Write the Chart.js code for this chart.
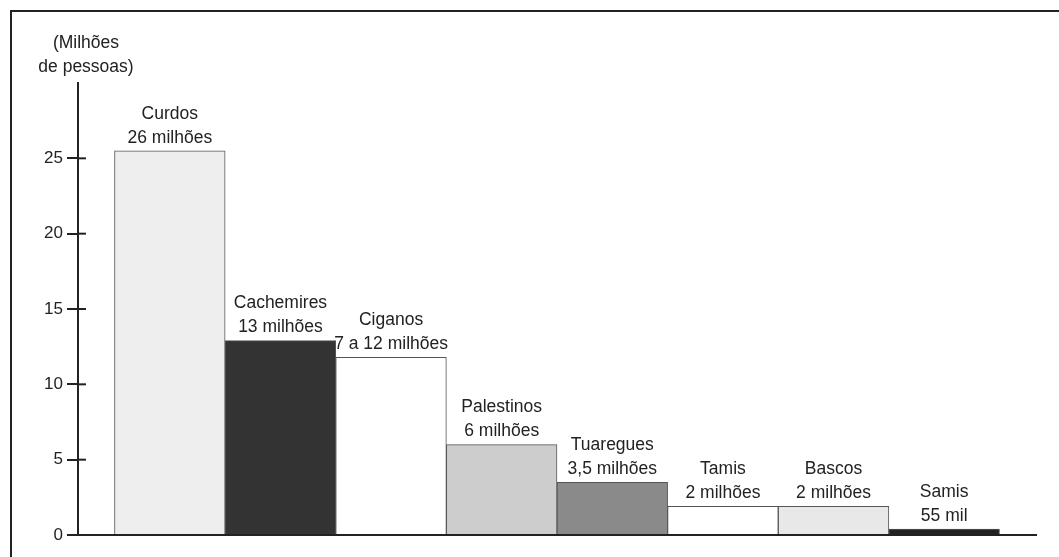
<!DOCTYPE html>
<html>
<head>
<meta charset="utf-8">
<script src="https://cdn.jsdelivr.net/npm/chart.js@4"></script>
<style>
  html, body { margin: 0; padding: 0; background: #fff; }
  #wrap { position: relative; width: 1059px; height: 557px; }
  #frame { position: absolute; left: 10px; top: 10px; right: -4px; bottom: -4px;
           border-left: 2px solid #222; border-top: 2px solid #222; }
  canvas { position: absolute; left: 0; top: 0; }
</style>
</head>
<body>
<div id="wrap">
  <div id="frame"></div>
  <canvas id="barChart" width="1059" height="557"></canvas>
</div>
<script>
// Data
var peoples = ["Curdos", "Cachemires", "Ciganos", "Palestinos", "Tuaregues", "Tamis", "Bascos", "Samis"];
var amountLabels = ["26 milhões", "13 milhões", "7 a 12 milhões", "6 milhões", "3,5 milhões", "2 milhões", "2 milhões", "55 mil"];
var values = [25.5, 12.9, 11.8, 6.0, 3.5, 1.9, 1.9, 0.4];
var barColors = ["#eeeeee", "#333333", "#ffffff", "#cdcdcd", "#8a8a8a", "#ffffff", "#e8e8e8", "#222222"];
var yTicks = [0, 5, 10, 15, 20, 25];
var yMax = 30;
var axisTitle = ["(Milhões", "de pessoas)"];

var FONT = "17.5px 'Liberation Sans', Arial, sans-serif";
var INK = "#222";

// Draws the labels above bars, the inner half of the y tick marks and the axis title
var annotations = {
    id: "annotations",
    afterDraw: function (chart) {
        var ctx = chart.ctx;
        var y = chart.scales.y;
        ctx.save();
        ctx.fillStyle = INK;
        ctx.font = FONT;
        ctx.textAlign = "center";
        ctx.textBaseline = "middle";

        chart.getDatasetMeta(0).data.forEach(function (bar, i) {
            ctx.fillText(peoples[i], bar.x, bar.y - 37);
            ctx.fillText(amountLabels[i], bar.x, bar.y - 13);
        });

        ctx.fillText(axisTitle[0], 86, 43);
        ctx.fillText(axisTitle[1], 86, 67);

        ctx.strokeStyle = INK;
        ctx.lineWidth = 2;
        yTicks.forEach(function (t) {
            var py = y.getPixelForValue(t);
            ctx.beginPath();
            ctx.moveTo(chart.chartArea.left, py);
            ctx.lineTo(chart.chartArea.left + 8, py);
            ctx.stroke();
        });
        ctx.restore();
    }
};

var ctx = document.getElementById("barChart").getContext("2d");

var barChart = new Chart(ctx, {
    type: "bar",
    data: {
        datasets: [{
            data: values.map(function (v, i) { return { x: i, y: v }; }),
            backgroundColor: barColors,
            borderColor: "#555",
            borderWidth: 1,
            barPercentage: 1,
            categoryPercentage: 1
        }]
    },
    options: {
        responsive: false,
        animation: false,
        layout: {
            padding: { left: 0, top: 83, right: 23, bottom: 0 }
        },
        scales: {
            x: {
                type: "linear",
                offset: false,
                min: -0.83,
                max: 7.83,
                // one tick per bar so the bar width is one whole step
                afterBuildTicks: function (scale) {
                    scale.ticks = peoples.map(function (p, i) { return { value: i }; });
                },
                ticks: { display: false },
                grid: { display: false },
                border: { display: true, color: INK, width: 2 },
                afterFit: function (scale) { scale.height = 22; }
            },
            y: {
                min: 0,
                max: yMax,
                afterBuildTicks: function (scale) {
                    scale.ticks = yTicks.map(function (v) { return { value: v }; });
                },
                ticks: {
                    color: INK,
                    font: { family: "'Liberation Sans', Arial, sans-serif", size: 17 },
                    padding: 4
                },
                grid: {
                    drawOnChartArea: false,
                    drawTicks: true,
                    tickLength: 11,
                    color: INK,
                    lineWidth: 2
                },
                border: { display: true, color: INK, width: 2 },
                afterFit: function (scale) { scale.width = 78; }
            }
        },
        plugins: {
            legend: { display: false },
            tooltip: { enabled: false }
        }
    },
    plugins: [annotations]
});
</script>
</body>
</html>
